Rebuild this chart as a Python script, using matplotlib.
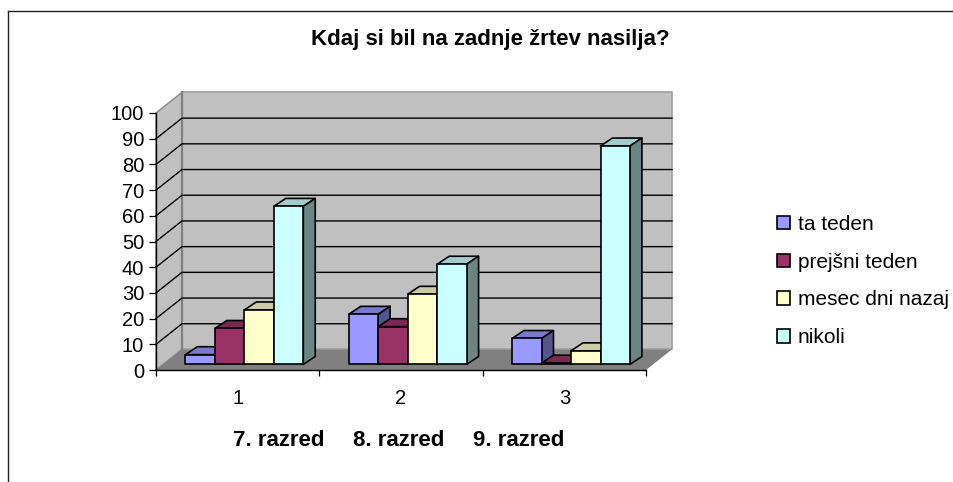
import matplotlib
matplotlib.use('Agg')
from matplotlib import pyplot as plt
from matplotlib.lines import Line2D
from matplotlib.patches import Patch

plt.rcParams['font.family'] = ['Liberation Sans', 'DejaVu Sans']

title = 'Kdaj si bil na zadnje žrtev nasilja?'
categories = ['1', '2', '3']
class_labels = ['7. razred', '8. razred', '9. razred']
series_names = ['ta teden', 'prejšni teden', 'mesec dni nazaj', 'nikoli']
ta_teden = [3.8, 19.5, 10.1]
prejsni_teden = [14, 14.7, 0.5]
mesec_dni_nazaj = [21.2, 27.3, 5.3]
nikoli = [61.5, 39, 85]
y_ticks = list(range(0, 101, 10))

# front, top and side colour of each series
front_colors = ['#9999FF', '#993366', '#FFFFCC', '#CCFFFF']
top_colors = ['#7A7ACC', '#7A2952', '#CCCCA3', '#A3CCCC']
side_colors = ['#555590', '#561D39', '#8F8F72', '#6B8585']

# the fake 3D depth, in data units
DEPTH_X = 0.159
DEPTH_Y = 8.0
BAR_DX = 0.073
BAR_DY = 3.1
BAR_START = 0.27
BAR_W = 0.1805
GROUP_PAD = 0.137

fig = plt.figure(figsize=(9.54, 4.82), dpi=100)
ax = fig.add_axes([156 / 954, 1 - 370 / 482, 490 / 954, 257 / 482])
ax.set_xlim(0, len(categories))
ax.set_ylim(0, 100)
ax.patch.set_visible(False)

n = len(categories)
# side wall, back wall, floor
ax.fill([0, DEPTH_X, DEPTH_X, 0], [0, DEPTH_Y, 100 + DEPTH_Y, 100], facecolor='#C0C0C0',
        edgecolor='#909090', lw=1.2, clip_on=False, zorder=1)
ax.fill([DEPTH_X, n + DEPTH_X, n + DEPTH_X, DEPTH_X], [DEPTH_Y, DEPTH_Y, 100 + DEPTH_Y, 100 + DEPTH_Y],
        facecolor='#C0C0C0', edgecolor='#A0A0A0', lw=1.2, clip_on=False, zorder=1)
ax.plot([DEPTH_X, DEPTH_X], [DEPTH_Y, 100 + DEPTH_Y], color='#808080', lw=1.6, clip_on=False, zorder=2)
ax.fill([0, n, n + DEPTH_X, DEPTH_X], [0, 0, DEPTH_Y, DEPTH_Y], facecolor='#808080',
        edgecolor='none', clip_on=False, zorder=2)

# gridlines run over the side wall and along the back wall
for v in y_ticks[1:-1]:
    ax.plot([0, DEPTH_X, n + DEPTH_X], [v, v + DEPTH_Y, v + DEPTH_Y], color='black', lw=1.0,
            clip_on=False, zorder=2, solid_joinstyle='miter')

all_series = [ta_teden, prejsni_teden, mesec_dni_nazaj, nikoli]
base_y = BAR_START * DEPTH_Y
z = 3
for c in range(n):
    for s, values in enumerate(all_series):
        x0 = c + GROUP_PAD + s * BAR_W + BAR_START * DEPTH_X
        x1 = x0 + BAR_W
        top = values[c] + base_y
        style = dict(edgecolor='black', lw=1.2, clip_on=False, zorder=z, joinstyle='round')
        ax.fill([x0, x1, x1 + BAR_DX, x0 + BAR_DX], [top, top, top + BAR_DY, top + BAR_DY],
                facecolor=top_colors[s], **style)
        ax.fill([x1, x1 + BAR_DX, x1 + BAR_DX, x1], [base_y, base_y + BAR_DY, top + BAR_DY, top],
                facecolor=side_colors[s], **style)
        ax.fill([x0, x1, x1, x0], [base_y, base_y, top, top], facecolor=front_colors[s], **style)
        z += 1

# axes
for name in ['top', 'right']:
    ax.spines[name].set_visible(False)
for name in ['left', 'bottom']:
    ax.spines[name].set_linewidth(1.0)
    ax.spines[name].set_zorder(50)
ax.set_yticks(y_ticks)
ax.tick_params(axis='y', labelsize=14.5, length=5, width=0.9, pad=3.5)
ax.set_xticks(range(n + 1))
ax.set_xticklabels([])
ax.tick_params(axis='x', length=4.5, width=0.9)
ax.set_xticks([i + 0.5 for i in range(n)], minor=True)
ax.set_xticklabels(categories, minor=True)
ax.tick_params(axis='x', which='minor', length=0, labelsize=14.5, pad=14)

fig.suptitle(title, x=490 / 954, y=1 - 40 / 482, va='center', ha='center', fontsize=16, fontweight='bold')

for label, px in zip(class_labels, [279, 399, 519]):
    fig.text(px / 954, 1 - 441 / 482, label, ha='center', va='center', fontsize=16, fontweight='bold')

handles = [Patch(facecolor=col, edgecolor='black', lw=1.2) for col in front_colors]
ax.legend(handles, series_names, loc='center left', bbox_to_anchor=(777 / 954, 1 - 281 / 482),
          bbox_transform=fig.transFigure, frameon=False, fontsize=15, handlelength=0.62,
          handleheight=0.62, handletextpad=0.38, labelspacing=0.9, borderpad=0, borderaxespad=0)

# the chart frame is cut off by the picture on the right and at the bottom
fig.add_artist(Line2D([8 / 954, 1], [1 - 10.5 / 482, 1 - 10.5 / 482], color='#222222', lw=1.0))
fig.add_artist(Line2D([8 / 954, 8 / 954], [0, 1 - 10.5 / 482], color='#222222', lw=1.0))

plt.savefig('out.png', dpi=100)
plt.close()
